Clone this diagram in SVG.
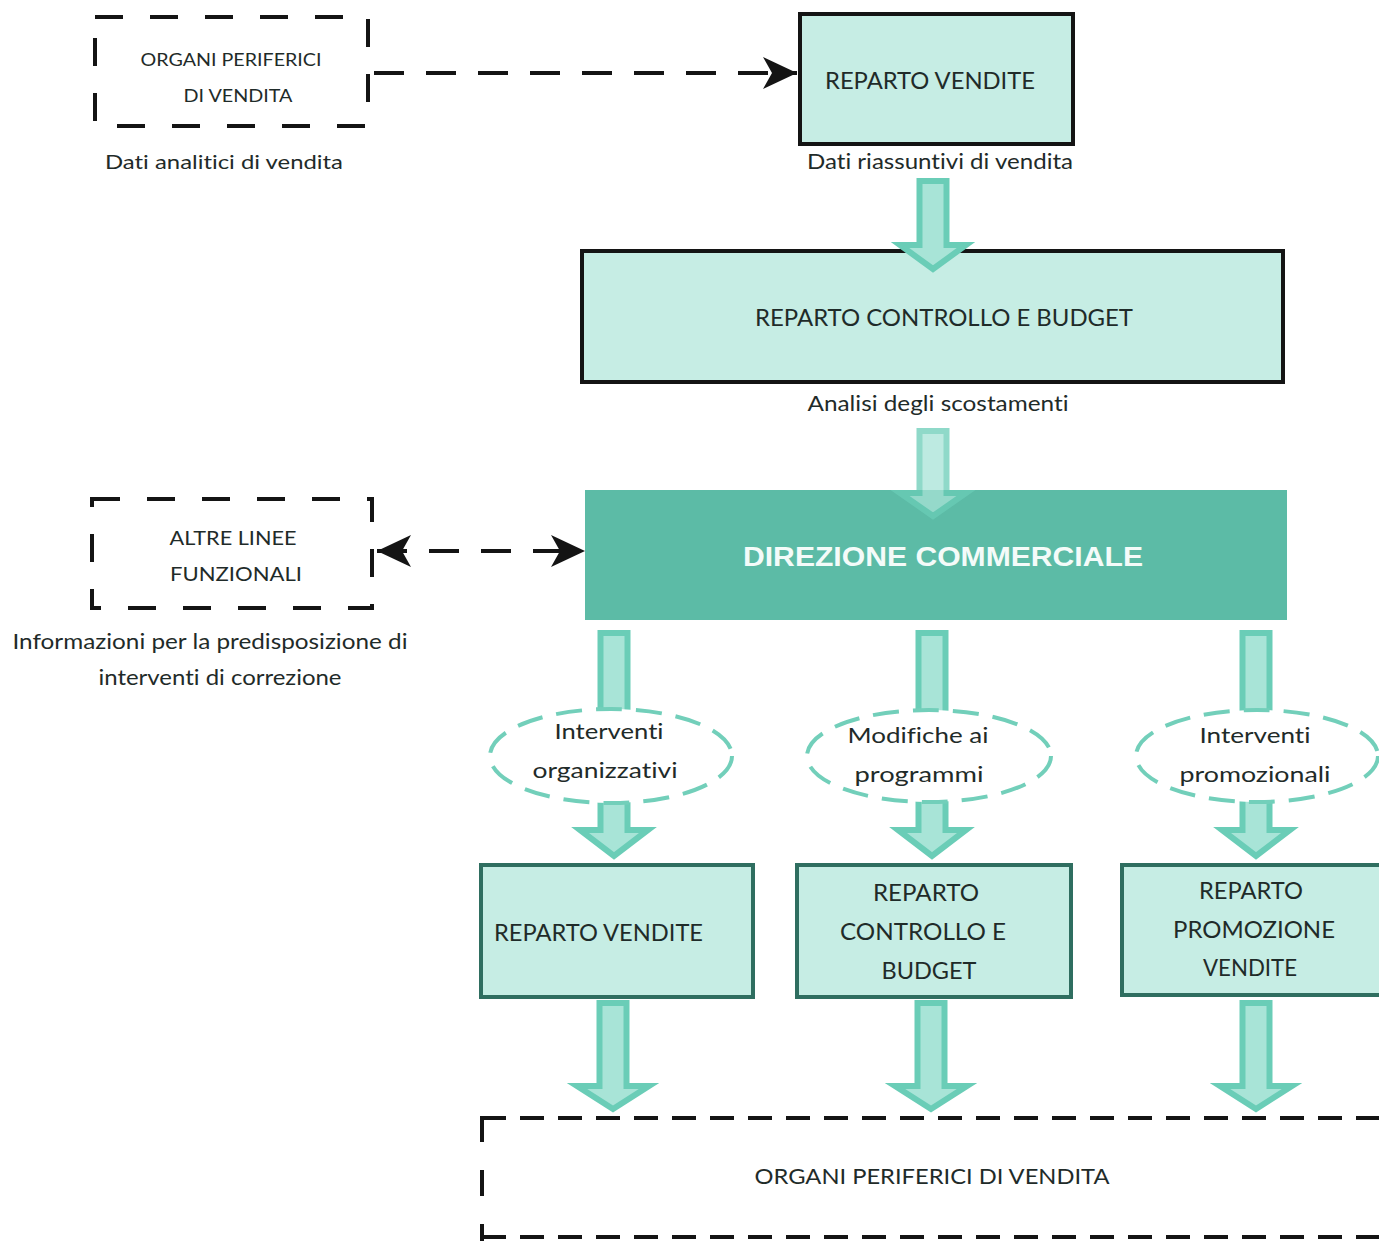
<svg xmlns="http://www.w3.org/2000/svg" width="1379" height="1241" viewBox="0 0 1379 1241">
  <defs>
    <style>
      .txt { font-family: Lato, "Open Sans", "Liberation Sans", sans-serif; fill: #1f2b29; font-variant-ligatures: none; font-feature-settings: "liga" 0; }
      .dash-box { fill: none; stroke: #141414; stroke-width: 4; }
      .box-top { fill: #c6ede4; stroke: #141414; stroke-width: 4; }
      .box-low { fill: #c6ede4; stroke: #2f6e60; stroke-width: 4; }
      .flow { fill: #a8e4d7; stroke: #6acdb7; stroke-width: 6; stroke-linejoin: miter; }
      .bubble { fill: #ffffff; stroke: #72cfba; stroke-width: 4; stroke-dasharray: 26 14; }
      .dline { fill: none; stroke: #141414; stroke-width: 4; stroke-dasharray: 30 22; }
    </style>
    <marker id="barb" markerUnits="userSpaceOnUse" markerWidth="36" markerHeight="34" refX="34" refY="17" orient="auto-start-reverse">
      <path d="M0,1 L34,17 L0,33 L9,17 Z" fill="#141414"/>
    </marker>
  </defs>

  <rect width="1379" height="1241" fill="#ffffff"/>

  <!-- field sales offices (top) -->
  <g id="organi-top">
    <rect class="dash-box" x="95" y="17" width="273" height="109" stroke-dasharray="28 27"/>
    <text class="txt" x="231" y="66" font-size="18" text-anchor="middle" textLength="181" lengthAdjust="spacingAndGlyphs">ORGANI PERIFERICI</text>
    <text class="txt" x="238" y="102" font-size="18" text-anchor="middle" textLength="109" lengthAdjust="spacingAndGlyphs">DI VENDITA</text>
    <text class="txt" x="224" y="169" font-size="20" text-anchor="middle" textLength="238" lengthAdjust="spacingAndGlyphs">Dati analitici di vendita</text>
  </g>

  <g id="reparto-vendite-top">
    <rect class="box-top" x="800" y="14" width="273" height="130"/>
    <text class="txt" x="930" y="89" font-size="24" text-anchor="middle" textLength="210" lengthAdjust="spacingAndGlyphs">REPARTO VENDITE</text>
    <text class="txt" x="940" y="169" font-size="21" text-anchor="middle" textLength="266" lengthAdjust="spacingAndGlyphs">Dati riassuntivi di vendita</text>
  </g>

  <g id="reparto-controllo-top">
    <rect class="box-top" x="582" y="251" width="701" height="131"/>
    <text class="txt" x="944" y="326" font-size="24" text-anchor="middle" textLength="378" lengthAdjust="spacingAndGlyphs">REPARTO CONTROLLO E BUDGET</text>
    <text class="txt" x="938" y="411" font-size="21" text-anchor="middle" textLength="261" lengthAdjust="spacingAndGlyphs">Analisi degli scostamenti</text>
  </g>

  <g id="direzione-commerciale">
    <rect x="585" y="490" width="702" height="130" fill="#5cbba6"/>
    <text x="943" y="566" font-family="'Liberation Sans', Arial, sans-serif" font-weight="bold" font-size="27" fill="#f4fbf9" text-anchor="middle" textLength="400" lengthAdjust="spacingAndGlyphs">DIREZIONE COMMERCIALE</text>
  </g>

  <g id="altre-linee">
    <rect class="dash-box" x="92" y="499" width="280" height="109" stroke-dasharray="28 27"/>
    <text class="txt" x="233" y="545" font-size="19" text-anchor="middle" textLength="127" lengthAdjust="spacingAndGlyphs">ALTRE LINEE</text>
    <text class="txt" x="236" y="581" font-size="19" text-anchor="middle" textLength="132" lengthAdjust="spacingAndGlyphs">FUNZIONALI</text>
    <text class="txt" x="210" y="649" font-size="21" text-anchor="middle" textLength="395" lengthAdjust="spacingAndGlyphs">Informazioni per la predisposizione di</text>
    <text class="txt" x="220" y="685" font-size="21" text-anchor="middle" textLength="243" lengthAdjust="spacingAndGlyphs">interventi di correzione</text>
  </g>

  <!-- departments -->
  <g id="reparto-vendite-low">
    <rect class="box-low" x="481" y="865" width="272" height="132"/>
    <text class="txt" x="494" y="941" font-size="23" textLength="209" lengthAdjust="spacingAndGlyphs">REPARTO VENDITE</text>
  </g>
  <g id="reparto-controllo-low">
    <rect class="box-low" x="797" y="865" width="274" height="132"/>
    <text class="txt" x="926" y="901" font-size="23" text-anchor="middle" textLength="106" lengthAdjust="spacingAndGlyphs">REPARTO</text>
    <text class="txt" x="923" y="940" font-size="23" text-anchor="middle" textLength="166" lengthAdjust="spacingAndGlyphs">CONTROLLO E</text>
    <text class="txt" x="929" y="979" font-size="23" text-anchor="middle" textLength="95" lengthAdjust="spacingAndGlyphs">BUDGET</text>
  </g>
  <g id="reparto-promozione">
    <rect class="box-low" x="1122" y="865" width="270" height="130"/>
    <text class="txt" x="1251" y="899" font-size="23" text-anchor="middle" textLength="104" lengthAdjust="spacingAndGlyphs">REPARTO</text>
    <text class="txt" x="1254" y="938" font-size="23" text-anchor="middle" textLength="162" lengthAdjust="spacingAndGlyphs">PROMOZIONE</text>
    <text class="txt" x="1250" y="976" font-size="23" text-anchor="middle" textLength="94" lengthAdjust="spacingAndGlyphs">VENDITE</text>
  </g>

  <!-- field sales offices (bottom) -->
  <g id="organi-bottom">
    <line class="dash-box" x1="482" y1="1118" x2="1379" y2="1118" stroke-dasharray="24 14"/>
    <line class="dash-box" x1="482" y1="1237" x2="1379" y2="1237" stroke-dasharray="24 14"/>
    <line class="dash-box" x1="482" y1="1116" x2="482" y2="1241" stroke-dasharray="26 28"/>
    <text class="txt" x="932" y="1184" font-size="22" text-anchor="middle" textLength="355" lengthAdjust="spacingAndGlyphs">ORGANI PERIFERICI DI VENDITA</text>
  </g>

  <!-- connectors (drawn over the box edges they touch) -->
  <g id="connectors">
    <line class="dline" x1="374" y1="73" x2="797" y2="73" marker-end="url(#barb)"/>
    <line class="dline" x1="377" y1="551" x2="585" y2="551" marker-start="url(#barb)" marker-end="url(#barb)"/>
    <!-- sales dept to budget -->
    <path class="flow" d="M919.5,181 H946.5 V245 H966 L933,269 L900,245 H919.5 Z"/>
    <!-- budget to directorate, fading into the directorate box -->
    <path class="flow" d="M919.5,431 H946.5 V493 H966 L933,516 L900,493 H919.5 Z" opacity="0.75"/>
    <!-- column arrows from the commercial directorate -->
    <path class="flow" d="M600.5,633 H627.5 V830 H648 L614,856 L580,830 H600.5 Z"/>
    <path class="flow" d="M918.5,633 H945.5 V830 H966 L932,856 L898,830 H918.5 Z"/>
    <path class="flow" d="M1242.5,633 H1269.5 V830 H1290 L1256,856 L1222,830 H1242.5 Z"/>
    <!-- departments to field sales -->
    <path class="flow" d="M599.5,1003 H626.5 V1086 H649 L613,1109 L577,1086 H599.5 Z"/>
    <path class="flow" d="M917.5,1003 H944.5 V1086 H967 L931,1109 L895,1086 H917.5 Z"/>
    <path class="flow" d="M1242.5,1003 H1269.5 V1086 H1292 L1256,1109 L1220,1086 H1242.5 Z"/>
  </g>

  <!-- corrective actions, laid over the column arrows -->
  <g id="interventi-organizzativi">
    <ellipse class="bubble" cx="611" cy="756" rx="121" ry="47"/>
    <text class="txt" x="609" y="739" font-size="22" text-anchor="middle" textLength="109" lengthAdjust="spacingAndGlyphs">Interventi</text>
    <text class="txt" x="605" y="778" font-size="22" text-anchor="middle" textLength="145" lengthAdjust="spacingAndGlyphs">organizzativi</text>
  </g>
  <g id="modifiche-programmi">
    <ellipse class="bubble" cx="929" cy="756" rx="122" ry="46"/>
    <text class="txt" x="918" y="743" font-size="22" text-anchor="middle" textLength="141" lengthAdjust="spacingAndGlyphs">Modifiche ai</text>
    <text class="txt" x="919" y="782" font-size="22" text-anchor="middle" textLength="129" lengthAdjust="spacingAndGlyphs">programmi</text>
  </g>
  <g id="interventi-promozionali">
    <ellipse class="bubble" cx="1257" cy="756" rx="121" ry="46"/>
    <text class="txt" x="1255" y="743" font-size="22" text-anchor="middle" textLength="111" lengthAdjust="spacingAndGlyphs">Interventi</text>
    <text class="txt" x="1255" y="782" font-size="22" text-anchor="middle" textLength="151" lengthAdjust="spacingAndGlyphs">promozionali</text>
  </g>
</svg>
